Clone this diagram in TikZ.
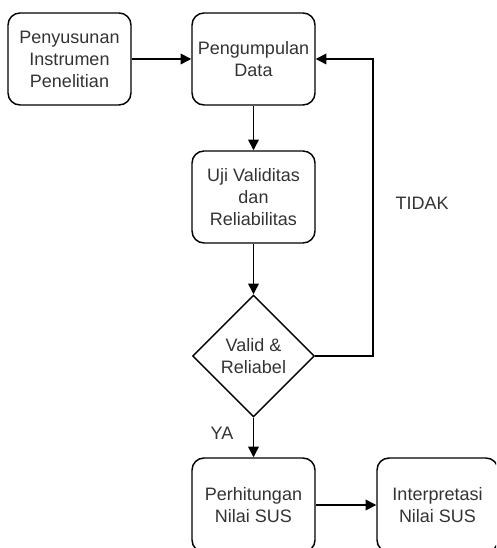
\documentclass[tikz,border=0pt]{standalone}
\usepackage{fontspec}
\setmainfont{Liberation Sans}
\usetikzlibrary{shapes.geometric,arrows.meta}
\definecolor{txt}{HTML}{333333}
\begin{document}
\begin{tikzpicture}[x={(0.75pt,0)},y={(0,-0.75pt)},
  font=\fontsize{13.5}{16.5}\selectfont,
  box/.style={draw=black,line width=1.1pt,rounded corners=9pt,minimum width=92.25pt,minimum height=69pt,inner sep=0pt,align=center,text=txt},
  dec/.style={draw=black,line width=1.1pt,diamond,aspect=1,minimum width=91.5pt,minimum height=91.5pt,inner sep=0pt,align=center,text=txt},
  arr/.style={line width=1.1pt,-{Triangle[length=8pt,width=8pt]}},
  lbl/.style={text=txt,inner sep=0pt}]
\useasboundingbox (0,0) rectangle (496,548);
\clip (0,0) rectangle (496,548);
\node[box] (a) at (69.5,59) {Penyusunan\\Instrumen\\Penelitian};
\node[box] (b) at (253.5,59) {Pengumpulan\\Data};
\node[box] (c) at (253.5,197) {Uji Validitas\\dan\\Reliabilitas};
\node[dec] (d) at (253.5,356) {Valid \&\\Reliabel};
\node[box,minimum height=70.5pt] (e) at (253.5,505) {Perhitungan\\Nilai SUS};
\node[box,minimum height=70.5pt,minimum width=90.75pt] (f) at (437.5,505) {Interpretasi\\Nilai SUS};
\coordinate (k1) at (373,356);
\coordinate (k2) at (373,59);
\node[lbl] (t) at (422,203) {TIDAK};
\node[lbl] (y) at (222,433) {YA};
\draw[arr] (a.east) -- (b.west);
\draw[arr] (b.south) -- (c.north);
\draw[arr] (c.south) -- (d.north);
\draw[arr] (d.south) -- (e.north);
\draw[arr] (e.east) -- (f.west);
\draw[arr] (d.east) -- (k1) -- (k2) -- (b.east);
\end{tikzpicture}
\end{document}
